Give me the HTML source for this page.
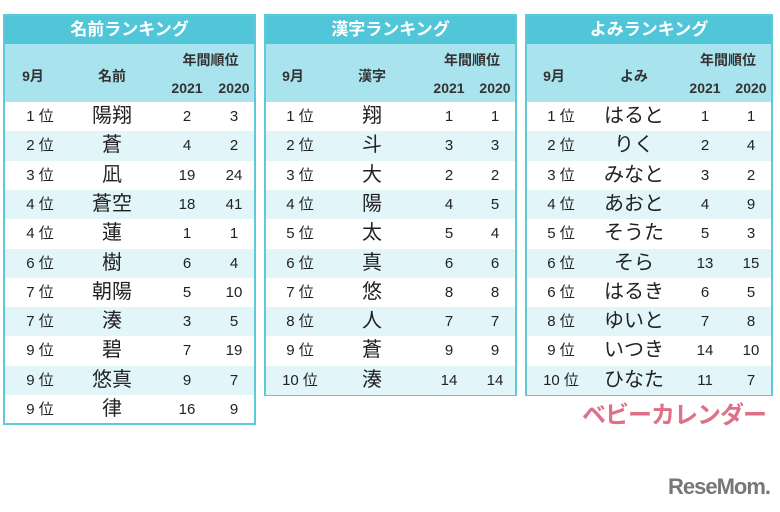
<!DOCTYPE html>
<html><head><meta charset="utf-8">
<style>
body{margin:0;width:780px;height:512px;background:#fff;position:relative;overflow:hidden;font-family:"Liberation Sans","Noto Sans CJK JP",sans-serif;}
.tbl{position:absolute;border:2px solid #5fc9d8;box-sizing:border-box;background:#fff;}
.title{position:absolute;left:0;right:0;top:0;height:28px;background:#52c6d9;color:#fff;font-weight:bold;font-size:17px;text-align:center;line-height:28px;}
.head{position:absolute;left:0;right:0;top:28px;height:58px;background:#a9e3ee;font-weight:bold;font-size:14px;color:#333;}
.head span,.row span{position:absolute;transform:translateX(-50%);white-space:nowrap;}
.row{position:absolute;left:0;right:0;height:29.3px;font-size:15px;color:#222;}
.row span{top:0;line-height:29.3px;}
.row .nm{font-size:20px;}
.alt{background:#e2f5f9;}
</style></head><body>
<div id="root"></div>
<div style="position:absolute;left:582px;top:395px;font-size:24px;font-weight:bold;color:#e07088;letter-spacing:-1px;">ベビーカレンダー</div>
<div style="position:absolute;left:668px;top:474px;font-size:22px;font-weight:bold;color:#777;letter-spacing:-1px;">ReseMom.</div>
<script>
const t1Ranks=["1 位","2 位","3 位","4 位","4 位","6 位","7 位","7 位","9 位","9 位","9 位"];
const t1Names=["陽翔","蒼","凪","蒼空","蓮","樹","朝陽","湊","碧","悠真","律"];
const t1Y2021=[2,4,19,18,1,6,5,3,7,9,16];
const t1Y2020=[3,2,24,41,1,4,10,5,19,7,9];
const t2Ranks=["1 位","2 位","3 位","4 位","5 位","6 位","7 位","8 位","9 位","10 位"];
const t2Names=["翔","斗","大","陽","太","真","悠","人","蒼","湊"];
const t2Y2021=[1,3,2,4,5,6,8,7,9,14];
const t2Y2020=[1,3,2,5,4,6,8,7,9,14];
const t3Ranks=["1 位","2 位","3 位","4 位","5 位","6 位","6 位","8 位","9 位","10 位"];
const t3Names=["はると","りく","みなと","あおと","そうた","そら","はるき","ゆいと","いつき","ひなた"];
const t3Y2021=[1,2,3,4,5,13,6,7,14,11];
const t3Y2020=[1,4,2,9,3,15,5,8,10,7];
const tables=[
 {x:3,w:253,title:"名前ランキング",col:"名前",cols:[35,107,182,229],r:t1Ranks,n:t1Names,a:t1Y2021,b:t1Y2020,name:"name-ranking-table"},
 {x:264,w:253,title:"漢字ランキング",col:"漢字",cols:[34,106,183,229],r:t2Ranks,n:t2Names,a:t2Y2021,b:t2Y2020,name:"kanji-ranking-table"},
 {x:525,w:248,title:"よみランキング",col:"よみ",cols:[34,107,178,224],r:t3Ranks,n:t3Names,a:t3Y2021,b:t3Y2020,name:"yomi-ranking-table"}
];
const root=document.getElementById('root');
tables.forEach(t=>{
 const d=document.createElement('div');
 
 
 d.className='tbl';
 const rh=29.3;
 d.style.left=t.x+'px';d.style.top='14px';d.style.width=t.w+'px';
 d.style.height=(28+58+t.r.length*rh+3)+'px';
 const c=t.cols;
 let h=`<div class="title">${t.title}</div>
 <div class="head">
 <span style="left:${c[0]-7}px;top:22px">9月</span>
 <span style="left:${c[1]}px;top:22px">${t.col}</span>
 <span style="left:${(c[2]+c[3])/2}px;top:6px">年間順位</span>
 <span style="left:${c[2]}px;top:36px">2021</span>
 <span style="left:${c[3]}px;top:36px">2020</span></div>`;
 t.r.forEach((r,i)=>{
  h+=`<div class="row${i%2?' alt':''}" style="top:${86+i*rh}px">
  <span style="left:${c[0]}px">${r}</span><span class="nm" style="left:${c[1]}px">${t.n[i]}</span>
  <span style="left:${c[2]}px">${t.a[i]}</span><span style="left:${c[3]}px">${t.b[i]}</span></div>`;
 });
 d.innerHTML=h;
 root.appendChild(d);
});
</script>
</body></html>
